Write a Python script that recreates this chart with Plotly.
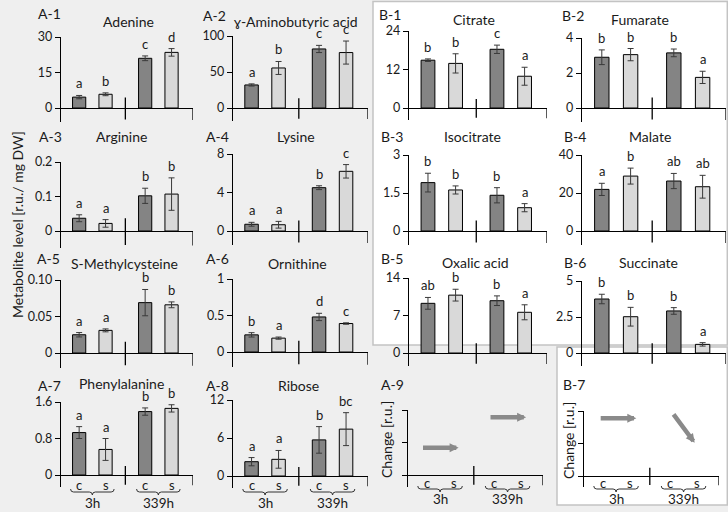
import plotly.graph_objects as go

W, H = 728, 512
FONT = "Lato"
TXT = "#1a1a1a"

# ---------------- data ----------------
groups = ["3h", "3h", "339h", "339h"]
treatments = ["c", "s", "c", "s"]

adenine = [4.6, 5.8, 21.0, 23.5]
adenine_err = [0.7, 0.6, 1.0, 1.6]
adenine_sig = ["a", "b", "c", "d"]

gaba = [32, 55.6, 82, 77]
gaba_err = [1.5, 9, 5, 16]
gaba_sig = ["a", "b", "c", "c"]

arginine = [0.037, 0.022, 0.102, 0.107]
arginine_err = [0.010, 0.011, 0.022, 0.047]
arginine_sig = ["a", "a", "b", "b"]

lysine = [0.7, 0.65, 4.5, 6.2]
lysine_err = [0.2, 0.35, 0.2, 0.7]
lysine_sig = ["a", "a", "b", "c"]

smc = [0.025, 0.031, 0.069, 0.066]
smc_err = [0.003, 0.002, 0.018, 0.004]
smc_sig = ["a", "a", "b", "b"]

ornithine = [0.235, 0.19, 0.48, 0.39]
ornithine_err = [0.03, 0.015, 0.05, 0.01]
ornithine_sig = ["b", "a", "d", "c"]

phe = [0.93, 0.56, 1.39, 1.46]
phe_err = [0.13, 0.24, 0.08, 0.08]
phe_sig = ["a", "a", "b", "b"]

ribose = [2.26, 2.63, 5.7, 7.4]
ribose_err = [0.65, 1.4, 2.1, 2.6]
ribose_sig = ["a", "a", "b", "bc"]

citrate = [14.9, 13.9, 18.3, 9.9]
citrate_err = [0.4, 3.0, 1.3, 2.8]
citrate_sig = ["b", "b", "c", "a"]

fumarate = [2.9, 3.05, 3.15, 1.75]
fumarate_err = [0.42, 0.35, 0.22, 0.35]
fumarate_sig = ["b", "b", "b", "a"]

isocitrate = [1.91, 1.62, 1.41, 0.92]
isocitrate_err = [0.37, 0.16, 0.3, 0.16]
isocitrate_sig = ["b", "b", "b", "a"]

malate = [21.9, 28.9, 26.3, 23.3]
malate_err = [3.2, 4.2, 4.0, 6.0]
malate_sig = ["a", "b", "ab", "ab"]

oxalic = [9.27, 10.8, 9.76, 7.6]
oxalic_err = [1.1, 1.1, 0.9, 1.4]
oxalic_sig = ["ab", "b", "b", "a"]

succinate = [3.75, 2.52, 2.92, 0.6]
succinate_err = [0.33, 0.65, 0.23, 0.12]
succinate_sig = ["b", "b", "b", "a"]

# change panels: relative level (0..1) at arrow start / end, per time group
a9_start = [0.42, 0.89]
a9_end = [0.42, 0.89]
b7_start = [0.89, 0.97]
b7_end = [0.89, 0.51]

# ---------------- layout constants ----------------
POS = {"3h": [0.55, 1.35], "339h": [2.55, 3.35]}
SEP = 1.95
XMAX = 4.0
DARK, LIGHT = "#848484", "#d9d9d9"

AL, AR, BL, BR = (61, 193), (233, 368), (409, 547), (582, 726)

panels = [
    ("A-1", "Adenine", adenine, adenine_err, adenine_sig, 30, ["0", "15", "30"], AL, (37, 108, 122), (49, 13), (128, 21)),
    ("A-2", "ɣ-Aminobutyric acid", gaba, gaba_err, gaba_sig, 100, ["0", "50", "100"], AR, (36, 108, 121), (214, 15), (295, 21)),
    ("A-3", "Arginine", arginine, arginine_err, arginine_sig, 0.2, ["0", "0.1", "0.2"], AL, (162, 231, 248), (50, 136), (122, 136)),
    ("A-4", "Lysine", lysine, lysine_err, lysine_sig, 8, ["0", "4", "8"], AR, (154, 231, 245), (217, 136), (296, 136)),
    ("A-5", "S-Methylcysteine", smc, smc_err, smc_sig, 0.10, ["0", "0.05", "0.10"], AL, (280, 353, 368), (48, 258), (124, 263)),
    ("A-6", "Ornithine", ornithine, ornithine_err, ornithine_sig, 1, ["0", "0.5", "1"], AR, (279, 352, 367), (217, 258), (297, 263)),
    ("A-7", "Phenylalanine", phe, phe_err, phe_sig, 1.6, ["0", "0.8", "1.6"], AL, (402, 475, 487), (49, 385), (121, 383)),
    ("A-8", "Ribose", ribose, ribose_err, ribose_sig, 12, ["0", "6", "12"], AR, (400, 476, 488), (217, 385), (298, 385)),
    ("B-1", "Citrate", citrate, citrate_err, citrate_sig, 24, ["0", "12", "24"], BL, (31, 108, 120), (390, 14), (474, 19)),
    ("B-2", "Fumarate", fumarate, fumarate_err, fumarate_sig, 4, ["0", "2", "4"], BR, (38, 108, 122), (573, 15), (640, 19)),
    ("B-3", "Isocitrate", isocitrate, isocitrate_err, isocitrate_sig, 3, ["0", "1.5", "3"], BL, (155, 231, 245), (392, 136), (472, 136)),
    ("B-4", "Malate", malate, malate_err, malate_sig, 40, ["0", "20", "40"], BR, (155, 231, 245), (575, 136), (650, 136)),
    ("B-5", "Oxalic acid", oxalic, oxalic_err, oxalic_sig, 14, ["0", "7", "14"], BL, (278, 353, 366), (392, 258), (475, 262)),
    ("B-6", "Succinate", succinate, succinate_err, succinate_sig, 5, ["0", "2.5", "5"], BR, (281, 353, 366), (575, 262), (648, 262)),
]

change_panels = [
    ("A-9", a9_start, a9_end, [(0.40, 1.50), (2.40, 3.50)], (408, 543), (410, 475, 487), (392, 384), (386, 440)),
    ("B-7", b7_start, b7_end, [(0.45, 1.55), (2.62, 3.28)], (584, 719), (411, 476, 487), (574, 384), (568, 441)),
]

bottom_rows = {"A-7": (485, 492, 503), "A-8": (485, 492, 503), "A-9": (483, 489, 499), "B-7": (483, 489, 499)}


def px(x, y):
    return x / W, 1 - y / H


def ptext(x, y, text, size=14, angle=0):
    return dict(x=x / W, y=1 - y / H, xref="paper", yref="paper", text=text, textangle=angle,
                showarrow=False, xanchor="center", yanchor="middle",
                font=dict(family=FONT, size=size, color=TXT))


fig = go.Figure()
layout = {}
shapes = []
annotations = []


def setup_axes(i, col, yp, ymax, ticktext, labels=True):
    top, zero, bottom = yp
    pxu = (zero - top) / ymax
    ext = (bottom - zero) / pxu
    xk = "xaxis" if i == 1 else f"xaxis{i}"
    yk = "yaxis" if i == 1 else f"yaxis{i}"
    xn = "x" if i == 1 else f"x{i}"
    yn = "y" if i == 1 else f"y{i}"
    layout[xk] = dict(domain=[col[0] / W, col[1] / W], range=[0, XMAX], anchor=yn,
                      showline=False, showgrid=False, zeroline=False, showticklabels=False,
                      ticks="", fixedrange=True, automargin=False)
    layout[yk] = dict(domain=[1 - bottom / H, 1 - top / H], range=[-ext, ymax], anchor=xn,
                      showline=True, linecolor="black", linewidth=1.3, showgrid=False,
                      zeroline=True, zerolinecolor="black", zerolinewidth=1.3,
                      ticks="outside", ticklen=5, tickwidth=1.3, tickcolor="black",
                      tickvals=[0, ymax / 2, ymax], ticktext=ticktext,
                      showticklabels=labels, tickfont=dict(family=FONT, size=12.5, color=TXT),
                      fixedrange=True, automargin=False)
    # separator between time groups and right end tick
    shapes.append(dict(type="line", xref=xn, yref=yn, x0=SEP, x1=SEP, y0=ext * 0.75, y1=-ext * 0.82,
                       line=dict(color="black", width=1.3)))
    shapes.append(dict(type="line", xref=xn, yref=yn, x0=XMAX, x1=XMAX, y0=0, y1=-ext * 0.85,
                       line=dict(color="black", width=1.3)))
    return xn, yn


def add_bottom(label, col):
    ycs, ybr, ygr = bottom_rows[label]
    for g in ["3h", "339h"]:
        for t, xp in zip(["c", "s"], POS[g]):
            xpix = col[0] + xp / XMAX * (col[1] - col[0])
            annotations.append(ptext(xpix, ycs, t, 13))
        c = (POS[g][0] + POS[g][1]) / 2
        x1 = col[0] + (c - 0.66) / XMAX * (col[1] - col[0])
        x2 = col[0] + (c + 0.66) / XMAX * (col[1] - col[0])
        xm = col[0] + c / XMAX * (col[1] - col[0])
        h = 3
        pts = [("M", [(x1, ybr - h)]), ("Q", [(x1, ybr), (x1 + h, ybr)]), ("L", [(xm - h, ybr)]),
               ("Q", [(xm, ybr), (xm, ybr + h)]), ("Q", [(xm, ybr), (xm + h, ybr)]),
               ("L", [(x2 - h, ybr)]), ("Q", [(x2, ybr), (x2, ybr - h)])]
        path = ""
        for cmd, ps in pts:
            path += cmd + " " + " ".join(f"{px(a, b)[0]:.5f},{px(a, b)[1]:.5f}" for a, b in ps) + " "
        shapes.append(dict(type="path", xref="paper", yref="paper", path=path.strip(),
                           line=dict(color="#333333", width=1)))
        annotations.append(ptext(xm, ygr, g, 13.5))


# background boxes for B
shapes.append(dict(type="rect", xref="paper", yref="paper", x0=373 / W, x1=727.3 / W,
                   y0=1 - 345 / H, y1=1 - 1.5 / H, fillcolor="white",
                   line=dict(color="#c3c3c3", width=1.5), layer="below"))
shapes.append(dict(type="rect", xref="paper", yref="paper", x0=557 / W, x1=727.3 / W,
                   y0=1 - 505 / H, y1=1 - 347 / H, fillcolor="white",
                   line=dict(color="#c3c3c3", width=1.5), layer="below"))

i = 0
for (lab, title, vals, errs, sig, ymax, tt, col, yp, labpos, titpos) in panels:
    i += 1
    xn, yn = setup_axes(i, col, yp, ymax, tt)
    xs = [POS[g][0 if t == "c" else 1] for g, t in zip(groups, treatments)]
    colors = [DARK if t == "c" else LIGHT for t in treatments]
    fig.add_trace(go.Bar(x=xs, y=vals, width=0.4, xaxis=xn, yaxis=yn,
                         marker=dict(color=colors, line=dict(color="black", width=1)),
                         error_y=dict(type="data", array=errs, color="#3a3a3a", thickness=1, width=3),
                         hoverinfo="skip"))
    for xv, v, e, s in zip(xs, vals, errs, sig):
        annotations.append(dict(x=xv, y=v + e, xref=xn, yref=yn, text=s, showarrow=False,
                                xanchor="center", yanchor="bottom", yshift=2,
                                font=dict(family=FONT, size=13, color=TXT)))
    annotations.append(ptext(labpos[0], labpos[1], lab, 14))
    annotations.append(ptext(titpos[0], titpos[1], title, 14))
    if lab in bottom_rows:
        add_bottom(lab, col)

for (lab, ys, ye, xx, col, yp, labpos, ytit) in change_panels:
    i += 1
    xn, yn = setup_axes(i, col, yp, 1.0, ["", "", ""], labels=False)
    for (x0, x1), y0, y1 in zip(xx, ys, ye):
        annotations.append(dict(x=x1, y=y1, ax=x0, ay=y0, xref=xn, yref=yn, axref=xn, ayref=yn,
                                text="", showarrow=True, arrowhead=2, arrowsize=0.4, arrowwidth=4.5,
                                arrowcolor="#8a8a8a"))
    annotations.append(ptext(labpos[0], labpos[1], lab, 14))
    annotations.append(ptext(ytit[0], ytit[1], "Change [r.u.]", 14, -90))
    add_bottom(lab, col)

annotations.append(ptext(17, 225, "Metabolite level [r.u./ mg DW]", 14, -90))

fig.update_layout(**layout)
fig.update_layout(width=W, height=H, autosize=False,
                  margin=dict(l=0, r=0, t=0, b=0, pad=0, autoexpand=False),
                  paper_bgcolor="#efefef", plot_bgcolor="rgba(0,0,0,0)", showlegend=False,
                  shapes=shapes, annotations=annotations, font=dict(family=FONT, color=TXT))
fig.write_html("out.html", config={"displayModeBar": False},
               post_script="document.body.style.margin='0px';document.body.style.overflow='hidden';")
